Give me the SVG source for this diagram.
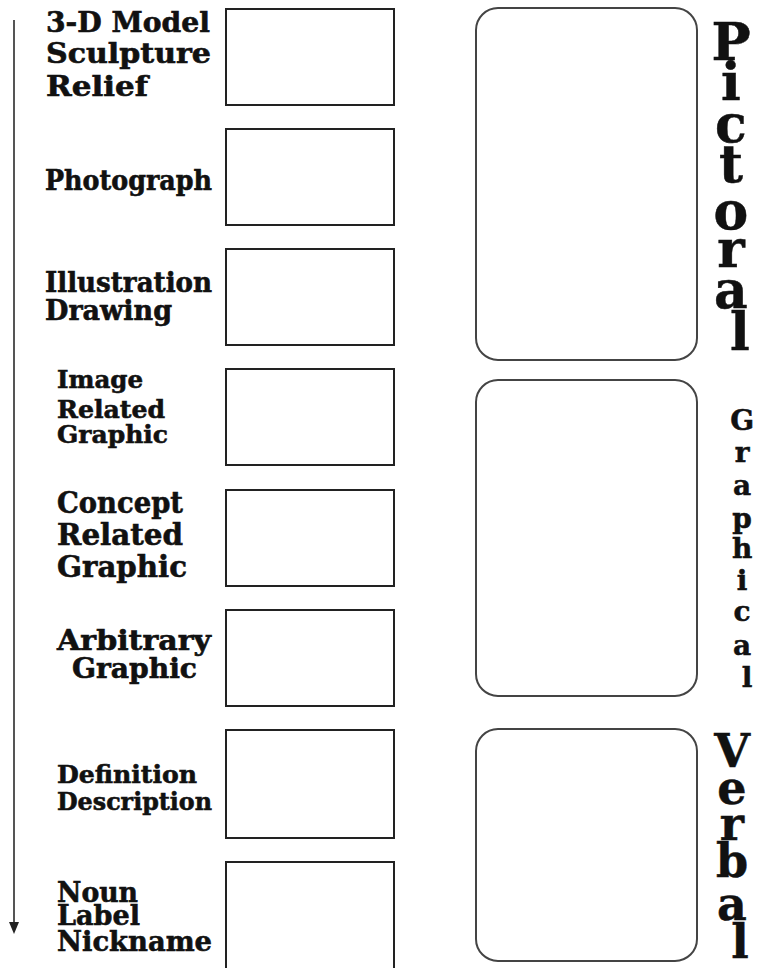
<svg xmlns="http://www.w3.org/2000/svg" width="760" height="968" viewBox="0 0 760 968">
<defs>
<style>
.lbl{font-family:"DejaVu Serif","Liberation Serif",serif;font-weight:bold;fill:#111;stroke:#111;stroke-width:0.6;}
.box{fill:#fff;stroke:#222;stroke-width:2;}
.panel{fill:#fff;stroke:#444;stroke-width:2;}
.vt{font-family:"DejaVu Serif","Liberation Serif",serif;font-weight:bold;fill:#111;text-anchor:middle;stroke:#111;stroke-width:0.5;}
</style>
</defs>
<rect width="760" height="968" fill="#fff"/>
<g id="connectors">
<line x1="14" y1="20" x2="14" y2="924" stroke="#555" stroke-width="2"/>
<polygon points="9,922 19,922 14,934" fill="#222"/>
</g>
<g id="node-3d">
<rect class="box" x="226" y="9" width="168" height="96"/>
<text class="lbl" font-size="27"><tspan x="46" y="32" textLength="164" lengthAdjust="spacingAndGlyphs">3-D Model</tspan></text>
<text class="lbl" font-size="27"><tspan x="46" y="63" textLength="165" lengthAdjust="spacingAndGlyphs">Sculpture</tspan></text>
<text class="lbl" font-size="27"><tspan x="46" y="96" textLength="102" lengthAdjust="spacingAndGlyphs">Relief</tspan></text>
</g>
<g id="node-photo">
<rect class="box" x="226" y="129" width="168" height="96"/>
<text class="lbl" font-size="27"><tspan x="45" y="190" textLength="167" lengthAdjust="spacingAndGlyphs">Photograph</tspan></text>
</g>
<g id="node-illus">
<rect class="box" x="226" y="249" width="168" height="96"/>
<text class="lbl" font-size="27"><tspan x="45" y="292" textLength="167" lengthAdjust="spacingAndGlyphs">Illustration</tspan></text>
<text class="lbl" font-size="27"><tspan x="45" y="320" textLength="127" lengthAdjust="spacingAndGlyphs">Drawing</tspan></text>
</g>
<g id="node-image">
<rect class="box" x="226" y="369" width="168" height="96"/>
<text class="lbl" font-size="25"><tspan x="57" y="388" textLength="86" lengthAdjust="spacingAndGlyphs">Image</tspan></text>
<text class="lbl" font-size="25"><tspan x="57" y="418" textLength="108" lengthAdjust="spacingAndGlyphs">Related</tspan></text>
<text class="lbl" font-size="25"><tspan x="57" y="443" textLength="111" lengthAdjust="spacingAndGlyphs">Graphic</tspan></text>
</g>
<g id="node-concept">
<rect class="box" x="226" y="490" width="168" height="96"/>
<text class="lbl" font-size="29"><tspan x="57" y="513" textLength="126" lengthAdjust="spacingAndGlyphs">Concept</tspan></text>
<text class="lbl" font-size="29"><tspan x="57" y="545" textLength="126" lengthAdjust="spacingAndGlyphs">Related</tspan></text>
<text class="lbl" font-size="29"><tspan x="57" y="577" textLength="130" lengthAdjust="spacingAndGlyphs">Graphic</tspan></text>
</g>
<g id="node-arbitrary">
<rect class="box" x="226" y="610" width="168" height="96"/>
<text class="lbl" font-size="27"><tspan x="57" y="650" textLength="154" lengthAdjust="spacingAndGlyphs">Arbitrary</tspan></text>
<text class="lbl" font-size="27"><tspan x="72" y="678" textLength="125" lengthAdjust="spacingAndGlyphs">Graphic</tspan></text>
</g>
<g id="node-definition">
<rect class="box" x="226" y="730" width="168" height="108"/>
<text class="lbl" font-size="25"><tspan x="57" y="783" textLength="140" lengthAdjust="spacingAndGlyphs">Definition</tspan></text>
<text class="lbl" font-size="25"><tspan x="57" y="810" textLength="155" lengthAdjust="spacingAndGlyphs">Description</tspan></text>
</g>
<g id="node-noun">
<rect class="box" x="226" y="862" width="168" height="110"/>
<text class="lbl" font-size="28"><tspan x="57" y="902" textLength="81" lengthAdjust="spacingAndGlyphs">Noun</tspan></text>
<text class="lbl" font-size="28"><tspan x="57" y="925" textLength="83" lengthAdjust="spacingAndGlyphs">Label</tspan></text>
<text class="lbl" font-size="28"><tspan x="57" y="951" textLength="155" lengthAdjust="spacingAndGlyphs">Nickname</tspan></text>
</g>
<g id="panel-pictoral">
<rect class="panel" x="476" y="8" width="221" height="352" rx="22"/>
<text class="vt" font-size="52">
<tspan x="740" y="60">P</tspan>
<tspan x="740" y="100">i</tspan>
<tspan x="740" y="142">c</tspan>
<tspan x="740" y="182">t</tspan>
<tspan x="740" y="229">o</tspan>
<tspan x="740" y="267">r</tspan>
<tspan x="740" y="308">a</tspan>
<tspan x="740" y="350">l</tspan>
</text>
</g>
<g id="panel-graphical">
<rect class="panel" x="476" y="380" width="221" height="316" rx="22"/>
<text class="vt" font-size="28">
<tspan x="747" y="430">G</tspan>
<tspan x="747" y="462">r</tspan>
<tspan x="747" y="495">a</tspan>
<tspan x="747" y="528">p</tspan>
<tspan x="747" y="558">h</tspan>
<tspan x="747" y="590">i</tspan>
<tspan x="747" y="621">c</tspan>
<tspan x="747" y="655">a</tspan>
<tspan x="747" y="687">l</tspan>
</text>
</g>
<g id="panel-verbal">
<rect class="panel" x="476" y="729" width="221" height="232" rx="22"/>
<text class="vt" font-size="46">
<tspan x="740" y="767">V</tspan>
<tspan x="740" y="804">e</tspan>
<tspan x="740" y="840">r</tspan>
<tspan x="740" y="877">b</tspan>
<tspan x="740" y="920">a</tspan>
<tspan x="740" y="958">l</tspan>
</text>
</g>
</svg>
